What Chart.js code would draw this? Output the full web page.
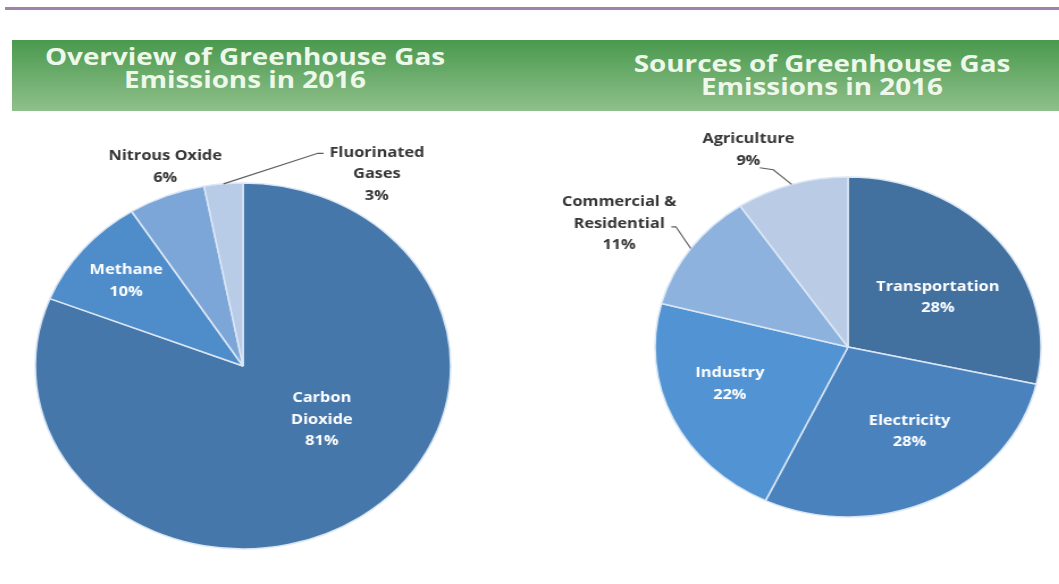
<!DOCTYPE html>
<html>
<head>
<meta charset="utf-8">
<script src="https://cdn.jsdelivr.net/npm/chart.js@4.4.0/dist/chart.umd.min.js"></script>
<style>
    html, body { margin: 0; padding: 0; background: #ffffff; overflow: hidden; }
    body { width: 1059px; height: 584px; position: relative; font-family: "Open Sans", sans-serif; }
    .topline { position: absolute; left: 5px; right: 0; top: 7px; height: 3px; background: #a083ad; }
    .banner {
        position: absolute; left: 12px; right: 0; top: 40px; height: 71px;
        background: linear-gradient(#4a994e, #8fc08b);
    }
    .title {
        position: absolute; width: 480px; text-align: center; color: #eef8ea;
        font-weight: bold; font-size: 23px; line-height: 23px;
        transform: scaleX(1.21);
    }
    .wrap { position: absolute; transform: scaleX(1.135); transform-origin: center center; }
</style>
</head>
<body>
<div class="topline"></div>
<div class="banner"></div>
<div class="title" style="left:5px; top:45px;">Overview of Greenhouse Gas<br>Emissions in 2016</div>
<div class="title" style="left:582px; top:52px;">Sources of Greenhouse Gas<br>Emissions in 2016</div>

<div class="wrap" style="left:13px; top:126px; width:460px; height:480px;">
    <canvas id="gasChart" width="460" height="480"></canvas>
</div>
<div class="wrap" style="left:578px; top:127px; width:540px; height:440px;">
    <canvas id="sourceChart" width="540" height="440"></canvas>
</div>

<script>
// Overview of greenhouse gas emissions (percent)
const gasLabels = ['Carbon\nDioxide', 'Methane', 'Nitrous Oxide', 'Fluorinated\nGases'];
const gasValues = [81, 10, 6, 3];
const gasColors = ['#4677aa', '#4f8dca', '#7ca6d7', '#b8cbe7'];

// Sources of greenhouse gas emissions (percent)
const sourceLabels = ['Transportation', 'Electricity', 'Industry', 'Commercial &\nResidential', 'Agriculture'];
const sourceValues = [28.4, 28.4, 22, 11.4, 9.4];
const sourceColors = ['#42709f', '#4a82be', '#5294d3', '#8db2dd', '#bacce5'];

const WHITE = '#ffffff';
const DARK = '#363636';

// label placement per slice: angle shift (deg) from slice middle, radius fraction,
// colour and an optional leader line (points relative to the label centre)
const sliceLabels = {
    id: 'sliceLabels',
    afterDatasetsDraw(chart, args, opts) {
        const ctx = chart.ctx;
        const meta = chart.getDatasetMeta(0);
        const values = chart.data.datasets[0].data;
        ctx.save();
        ctx.font = 'bold 14.4px "Open Sans", sans-serif';
        ctx.textAlign = 'center';
        ctx.textBaseline = 'middle';
        meta.data.forEach((arc, i) => {
            const p = arc.getProps(['x', 'y', 'startAngle', 'endAngle', 'outerRadius'], true);
            const place = opts.places[i];
            const mid = (p.startAngle + p.endAngle) / 2;
            const a = mid + place.shift * Math.PI / 180;
            const lx = p.x + Math.cos(a) * place.f * p.outerRadius;
            const ly = p.y + Math.sin(a) * place.f * p.outerRadius;

            if (place.leader) {
                ctx.strokeStyle = '#5e5e5e';
                ctx.lineWidth = 1.2;
                ctx.beginPath();
                ctx.moveTo(p.x + Math.cos(mid) * p.outerRadius, p.y + Math.sin(mid) * p.outerRadius);
                place.leader.forEach(pt => ctx.lineTo(lx + pt[0], ly + pt[1]));
                ctx.stroke();
            }

            const lines = chart.data.labels[i].split('\n');
            lines.push(Math.round(values[i]) + '%');
            const lh = 21.5;
            const top = ly - (lines.length - 1) * lh / 2;
            ctx.fillStyle = place.color;
            lines.forEach((t, k) => ctx.fillText(t, lx, top + k * lh));
        });
        ctx.restore();
    }
};

function makePie(canvasId, labels, values, colors, radius, places) {
    const ctx = document.getElementById(canvasId);
    return new Chart(ctx, {
        type: 'pie',
        data: {
            labels: labels,
            datasets: [{
                data: values,
                backgroundColor: colors,
                borderColor: '#dbe7f5',
                borderWidth: 1.5,
                radius: radius
            }]
        },
        options: {
            responsive: false,
            animation: false,
            layout: { padding: 0 },
            plugins: {
                legend: { display: false },
                tooltip: { enabled: false },
                sliceLabels: { places: places }
            }
        },
        plugins: [sliceLabels]
    });
}

makePie('gasChart', gasLabels, gasValues, gasColors, 183, [
    { shift: -18, f: 0.48, color: WHITE },
    { shift: 0, f: 0.73, color: WHITE },
    { shift: 2.6, f: 1.15, color: DARK },
    { shift: 37, f: 1.23, color: DARK, leader: [[-52, -21], [-47, -21]] }
]);

makePie('sourceChart', sourceLabels, sourceValues, sourceColors, 170, [
    { shift: 6.5, f: 0.55, color: WHITE },
    { shift: -6.7, f: 0.59, color: WHITE },
    { shift: 5.4, f: 0.65, color: WHITE },
    { shift: -4, f: 1.39, color: DARK, leader: [[50, 3], [46, 3]] },
    { shift: -7, f: 1.27, color: DARK, leader: [[22, 20], [10, 18]] }
]);
</script>
</body>
</html>
